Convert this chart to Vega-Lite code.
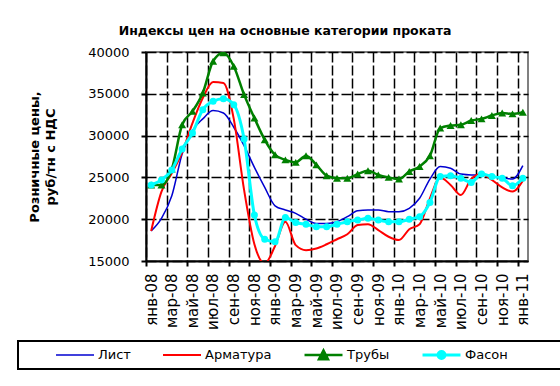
{
  "$schema": "https://vega.github.io/schema/vega-lite/v6.json",
  "width": 382,
  "height": 209,
  "autosize": "none",
  "padding": {"left": 146, "top": 52, "right": 32, "bottom": 125},
  "background": "white",
  "title": {
    "text": "Индексы цен на основные категории проката",
    "font": "DejaVu Sans", "fontSize": 12.5, "fontWeight": "bold", "color": "black",
    "anchor": "middle", "frame": "group", "dx": -52, "offset": -1, "baseline": "alphabetic"
  },
  "config": {
    "view": {"stroke": "#808080", "strokeWidth": 2},
    "font": "DejaVu Sans"
  },
  "data": {
    "values": [
      {"m": 0, "Лист": 18600, "Арматура": 18600, "Трубы": 24100, "Фасон": 24100},
      {"m": 1, "Лист": 20100, "Арматура": 23300, "Трубы": 24100, "Фасон": 24700},
      {"m": 2, "Лист": 22800, "Арматура": 25500, "Трубы": 26000, "Фасон": 25900},
      {"m": 3, "Лист": 27800, "Арматура": 28000, "Трубы": 31300, "Фасон": 28400},
      {"m": 4, "Лист": 30600, "Арматура": 31500, "Трубы": 32900, "Фасон": 30300},
      {"m": 5, "Лист": 32000, "Арматура": 34500, "Трубы": 35100, "Фасон": 33100},
      {"m": 6, "Лист": 33000, "Арматура": 36400, "Трубы": 38900, "Фасон": 34100},
      {"m": 7, "Лист": 32700, "Арматура": 36300, "Трубы": 39900, "Фасон": 34400},
      {"m": 8, "Лист": 31000, "Арматура": 32000, "Трубы": 38300, "Фасон": 33700},
      {"m": 9, "Лист": 28800, "Арматура": 23500, "Трубы": 34900, "Фасон": 29600},
      {"m": 10, "Лист": 26200, "Арматура": 17000, "Трубы": 32100, "Фасон": 20500},
      {"m": 11, "Лист": 23800, "Арматура": 14700, "Трубы": 29500, "Фасон": 17600},
      {"m": 12, "Лист": 21600, "Арматура": 16800, "Трубы": 27700, "Фасон": 17300},
      {"m": 13, "Лист": 21100, "Арматура": 19700, "Трубы": 27100, "Фасон": 20200},
      {"m": 14, "Лист": 20700, "Арматура": 16900, "Трубы": 26800, "Фасон": 19600},
      {"m": 15, "Лист": 20000, "Арматура": 16300, "Трубы": 27600, "Фасон": 19400},
      {"m": 16, "Лист": 19500, "Арматура": 16500, "Трубы": 26500, "Фасон": 19100},
      {"m": 17, "Лист": 19500, "Арматура": 17000, "Трубы": 25200, "Фасон": 19100},
      {"m": 18, "Лист": 19700, "Арматура": 17600, "Трубы": 24900, "Фасон": 19400},
      {"m": 19, "Лист": 20300, "Арматура": 18200, "Трубы": 24900, "Фасон": 19700},
      {"m": 20, "Лист": 21000, "Арматура": 19300, "Трубы": 25400, "Фасон": 19900},
      {"m": 21, "Лист": 21100, "Арматура": 19400, "Трубы": 25800, "Фасон": 20100},
      {"m": 22, "Лист": 21100, "Арматура": 18700, "Трубы": 25300, "Фасон": 19900},
      {"m": 23, "Лист": 20900, "Арматура": 17900, "Трубы": 25000, "Фасон": 19700},
      {"m": 24, "Лист": 20900, "Арматура": 17500, "Трубы": 24800, "Фасон": 19700},
      {"m": 25, "Лист": 21300, "Арматура": 18800, "Трубы": 25700, "Фасон": 20000},
      {"m": 26, "Лист": 22500, "Арматура": 19400, "Трубы": 26300, "Фасон": 20300},
      {"m": 27, "Лист": 24800, "Арматура": 22500, "Трубы": 27600, "Фасон": 22000},
      {"m": 28, "Лист": 26300, "Арматура": 25000, "Трубы": 30900, "Фасон": 25100},
      {"m": 29, "Лист": 26100, "Арматура": 24100, "Трубы": 31200, "Фасон": 25200},
      {"m": 30, "Лист": 25400, "Арматура": 22900, "Трубы": 31300, "Фасон": 24900},
      {"m": 31, "Лист": 25300, "Арматура": 24800, "Трубы": 31800, "Фасон": 24400},
      {"m": 32, "Лист": 25300, "Арматура": 25400, "Трубы": 32000, "Фасон": 25400},
      {"m": 33, "Лист": 25100, "Арматура": 24700, "Трубы": 32400, "Фасон": 25100},
      {"m": 34, "Лист": 25000, "Арматура": 23800, "Трубы": 32700, "Фасон": 24900},
      {"m": 35, "Лист": 24800, "Арматура": 23300, "Трубы": 32600, "Фасон": 24000},
      {"m": 36, "Лист": 26400, "Арматура": 24600, "Трубы": 32800, "Фасон": 24900}
    ]
  },
  "transform": [{"fold": ["Лист", "Арматура", "Трубы", "Фасон"], "as": ["s", "v"]}],
  "encoding": {
    "x": {
      "field": "m", "type": "quantitative",
      "scale": {"domain": [-0.5, 36.5], "nice": false, "zero": false},
      "axis": {
        "title": null,
        "values": [-0.5, 1.5, 3.5, 5.5, 7.5, 9.5, 11.5, 13.5, 15.5, 17.5, 19.5, 21.5, 23.5, 25.5, 27.5, 29.5, 31.5, 33.5, 35.5],
        "labelExpr": "['янв-08','мар-08','май-08','июл-08','сен-08','ноя-08','янв-09','мар-09','май-09','июл-09','сен-09','ноя-09','янв-10','мар-10','май-10','июл-10','сен-10','ноя-10','янв-11'][round((datum.value+0.5)/2)]",
        "labelAngle": -90, "labelOffset": 5, "labelPadding": 7,
        "labelFont": "DejaVu Sans", "labelFontSize": 15, "labelColor": "black",
        "labelOverlap": false, "labelBound": false, "labelFlush": false,
        "tickColor": "black", "tickWidth": 2, "tickSize": 5,
        "domainColor": "black", "domainWidth": 2,
        "grid": true, "gridColor": "black", "gridDash": [10, 3], "gridWidth": 1.5, "gridOpacity": 1
      }
    },
    "y": {
      "field": "v", "type": "quantitative",
      "scale": {"domain": [15000, 40000], "nice": false, "zero": false},
      "axis": {
        "title": ["Розничные цены,", "руб/тн с НДС"],
        "titleFont": "DejaVu Sans", "titleFontSize": 13, "titleFontWeight": "bold", "titleColor": "black",
        "titleAngle": -90, "titleAlign": "center", "titleBaseline": "top", "titleX": -118, "titleY": 104.5, "titleLineHeight": 16,
        "values": [15000, 20000, 25000, 30000, 35000, 40000], "format": "d",
        "labelFont": "DejaVu Sans", "labelFontSize": 13, "labelColor": "black", "labelPadding": 12,
        "labelOverlap": false, "labelBound": false, "labelFlush": false,
        "tickColor": "black", "tickWidth": 2, "tickSize": 5,
        "domainColor": "black", "domainWidth": 2,
        "grid": true, "gridColor": "black", "gridDash": [10, 3], "gridWidth": 1.5, "gridOpacity": 1
      }
    },
    "color": {
      "field": "s", "type": "nominal",
      "scale": {"domain": ["Лист", "Арматура", "Трубы", "Фасон"], "range": ["#0000D0", "#FF0000", "#008000", "#00FFFF"]},
      "legend": {
        "orient": "none", "legendX": -128, "legendY": 289, "direction": "horizontal",
        "title": " ", "titleOrient": "right", "titlePadding": 53, "titleFontSize": 1,
        "padding": 6, "strokeColor": "black",
        "labelFont": "DejaVu Sans", "labelFontSize": 13, "labelColor": "black", "labelOffset": 3,
        "symbolSize": 4761, "clipHeight": 16, "columnPadding": -3, "symbolStrokeWidth": 3,
        "encode": {
          "legend": {"update": {"strokeWidth": {"value": 2}}},
          "symbols": {"update": {
            "shape": {"signal": "datum.value === 'Трубы' ? 'M-0.101,0H1M0.319,0.12L0.449,-0.13L0.579,0.12Z' : datum.value === 'Фасон' ? 'M-0.101,0H1M0.549,0A0.1,0.1,0,1,1,0.349,0A0.1,0.1,0,1,1,0.549,0Z' : 'M-0.101,0H1'"},
            "fill": {"scale": "color", "field": "value"},
            "stroke": {"scale": "color", "field": "value"},
            "strokeWidth": {"value": 3},
            "opacity": {"value": 1}
          }}
        }
      }
    }
  },
  "layer": [
    {
      "mark": {"type": "line", "interpolate": "monotone", "clip": true},
      "encoding": {
        "strokeWidth": {"field": "s", "type": "nominal", "scale": {"domain": ["Лист", "Арматура", "Трубы", "Фасон"], "range": [1.5, 3, 3, 3]}, "legend": null}
      }
    },
    {
      "transform": [{"filter": "datum.s === 'Трубы'"}],
      "mark": {"type": "point", "shape": "triangle-up", "filled": true, "size": 64, "opacity": 1, "clip": true}
    },
    {
      "transform": [{"filter": "datum.s === 'Фасон'"}],
      "mark": {"type": "point", "shape": "circle", "filled": true, "size": 49, "opacity": 1, "clip": true}
    }
  ]
}
